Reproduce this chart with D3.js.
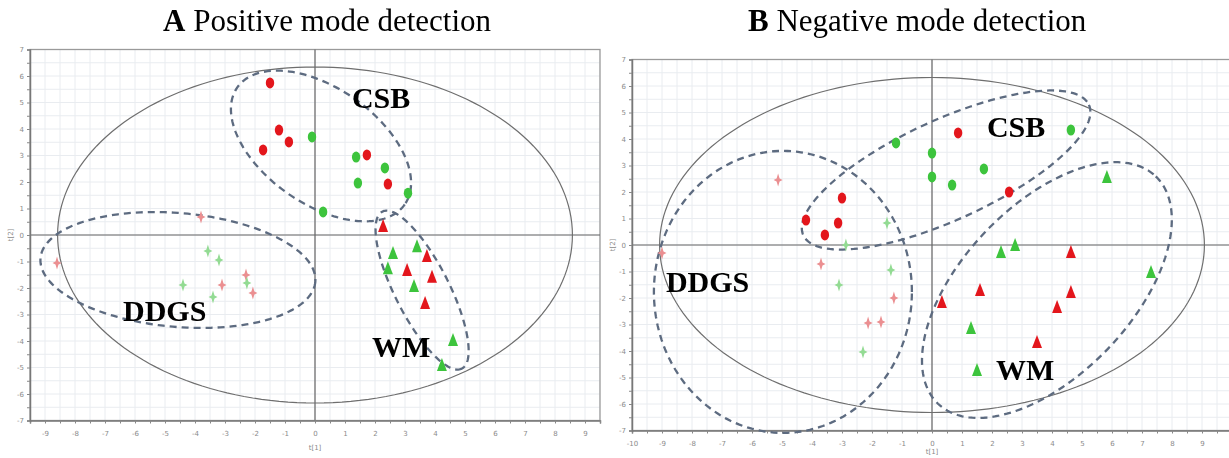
<!DOCTYPE html>
<html lang="en">
<head>
<meta charset="utf-8">
<title>PCA score plots</title>
<script src="https://d3js.org/d3.v7.min.js"></script>
<style>
  body { margin: 0; background: #fff; }
  svg { display: block; }
</style>
</head>
<body>
<script>
// ---- data (t[1], t[2], class 0 = red, 1 = green) ----
var posCSB = [[-1.50,5.74,0],[-1.20,3.96,0],[-0.87,3.51,0],[-1.73,3.21,0],[-0.10,3.70,1],[1.37,2.94,1],
              [1.73,3.02,0],[2.33,2.53,1],[1.43,1.96,1],[2.43,1.92,0],[3.10,1.58,1],[0.27,0.87,1]];
var posWM = [[2.27,0.34,0],[3.40,-0.42,1],[3.73,-0.79,0],[2.60,-0.68,1],[2.43,-1.25,1],[3.07,-1.32,0],
             [3.90,-1.58,0],[3.30,-1.92,1],[3.67,-2.57,0],[4.60,-3.96,1],[4.23,-4.91,1]];
var posDDGS = [[-3.80,0.68,0],[-3.57,-0.60,1],[-3.20,-0.94,1],[-8.60,-1.06,0],[-2.30,-1.51,0],[-2.27,-1.81,1],
               [-3.10,-1.89,0],[-4.40,-1.89,1],[-2.07,-2.19,0],[-3.40,-2.34,1]];

var negCSB = [[-1.20,3.85,1],[-3.00,1.77,0],[-4.20,0.94,0],[-3.13,0.83,0],[-3.57,0.38,0],[0.87,4.23,0],
              [0.00,3.47,1],[0.00,2.57,1],[0.67,2.26,1],[1.73,2.87,1],[2.57,2.00,0],[4.63,4.34,1]];
var negWM = [[5.83,2.57,1],[2.30,-0.26,1],[2.77,0.00,1],[4.63,-0.26,0],[7.30,-1.02,1],[4.63,-1.77,0],
             [1.60,-1.70,0],[0.33,-2.15,0],[4.17,-2.34,0],[1.30,-3.13,1],[3.50,-3.66,0],[1.50,-4.72,1]];
var negDDGS = [[-5.13,2.45,0],[-1.50,0.83,1],[-2.87,0.00,1],[-9.00,-0.30,0],[-3.70,-0.72,0],[-1.37,-0.94,1],
               [-3.10,-1.51,1],[-1.27,-2.00,0],[-2.13,-2.94,0],[-1.70,-2.91,0],[-2.30,-4.04,1]];

// confidence ellipses: centre + two conjugate half axes (data units)
var posEllipses = [
  {name: "T2",   c: [0, 0],        u: [8.58, 0],     v: [0, 6.34]},
  {name: "CSB",  c: [0.20, 3.36],  u: [2.79, -2.21], v: [-1.11, -1.79]},
  {name: "WM",   c: [3.57, -2.08], u: [1.33, -2.96], v: [-0.80, -0.48]},
  {name: "DDGS", c: [-4.57, -1.32],u: [4.58, -0.45], v: [-0.17, -2.14]}
];
var negEllipses = [
  {name: "T2",   c: [0, 0],        u: [9.08, 0],     v: [0, 6.32]},
  {name: "CSB",  c: [0.47, 2.83],  u: [4.76, 2.46],  v: [0.69, -1.72]},
  {name: "DDGS", c: [-4.97, -1.77],u: [4.30, 0],     v: [0, 5.32]},
  {name: "WM",   c: [3.83, -1.70], u: [3.63, 4.29],  v: [2.04, -2.21]}
];

var posLabels = [["CSB", 1.23, 4.79], ["DDGS", -6.4, -3.25], ["WM", 1.9, -4.6]];
var negLabels = [["CSB", 1.83, 4.08], ["DDGS", -8.87, -1.77], ["WM", 2.13, -5.09]];

var posXTicks = d3.range(-9, 10), posYTicks = d3.range(-7, 8);
var negXTicks = d3.range(-10, 10), negYTicks = d3.range(-7, 8);

var titles = [["A", " Positive mode detection"], ["B", " Negative mode detection"]];

var classColor = ["#e3161c", "#3cc43c"];
var faintColor = ["#eb8f91", "#93db93"];

var svg = d3.select("body").append("svg")
    .attr("width", 1229).attr("height", 458);

var defs = svg.append("defs");
defs.append("filter").attr("id", "soft")
    .append("feGaussianBlur").attr("stdDeviation", 0.5);

function panel(opt) {
    var x = d3.scaleLinear().domain(opt.xd).range(opt.xr);
    var y = d3.scaleLinear().domain(opt.yd).range(opt.yr);
    var g = svg.append("g");
    var clipId = "clip" + opt.id;
    defs.append("clipPath").attr("id", clipId).append("rect")
        .attr("x", opt.xr[0]).attr("y", opt.yr[1])
        .attr("width", opt.xr[1] - opt.xr[0]).attr("height", opt.yr[0] - opt.yr[1]);

    // grid every 0.5
    var grid = g.append("g").attr("clip-path", "url(#" + clipId + ")");
    grid.selectAll("line.gx").data(d3.range(opt.xd[0], opt.xd[1] + 0.01, 0.5)).enter()
        .append("line").attr("x1", d => x(d)).attr("x2", d => x(d))
        .attr("y1", opt.yr[0]).attr("y2", opt.yr[1])
        .attr("stroke", "#e9ecf0").attr("stroke-width", 1);
    grid.selectAll("line.gy").data(d3.range(opt.yd[0], opt.yd[1] + 0.01, 0.5)).enter()
        .append("line").attr("y1", d => y(d)).attr("y2", d => y(d))
        .attr("x1", opt.xr[0]).attr("x2", opt.xr[1])
        .attr("stroke", "#e9ecf0").attr("stroke-width", 1);

    // frame
    g.append("rect").attr("x", opt.xr[0]).attr("y", opt.yr[1])
        .attr("width", opt.xr[1] - opt.xr[0]).attr("height", opt.yr[0] - opt.yr[1])
        .attr("fill", "none").attr("stroke", "#9a9a9a").attr("stroke-width", 1.3);

    // zero lines
    g.append("line").attr("x1", x(0)).attr("x2", x(0)).attr("y1", opt.yr[0]).attr("y2", opt.yr[1])
        .attr("stroke", "#666").attr("stroke-width", 1.2);
    g.append("line").attr("y1", y(0)).attr("y2", y(0)).attr("x1", opt.xr[0]).attr("x2", opt.xr[1])
        .attr("stroke", "#666").attr("stroke-width", 1.2);

    // axes
    var xAxis = d3.axisBottom(x).tickValues(d3.range(opt.xd[0], opt.xd[1] + 0.01, 0.5))
        .tickSize(3).tickFormat(d => opt.xt.indexOf(d) >= 0 ? d : "");
    var xa = g.append("g").attr("transform", "translate(0," + opt.yr[0] + ")").call(xAxis);
    var yAxis = d3.axisLeft(y).tickValues(d3.range(opt.yd[0], opt.yd[1] + 0.01, 0.5))
        .tickSize(3).tickFormat(d => opt.yt.indexOf(d) >= 0 ? d : "");
    var ya = g.append("g").attr("transform", "translate(" + opt.xr[0] + ",0)").call(yAxis);
    [xa, ya].forEach(function (a) {
        a.select(".domain").attr("stroke", "#777").attr("stroke-width", 1.5);
        a.selectAll(".tick line").attr("stroke", "#888");
        a.selectAll(".tick text").attr("fill", "#8a8a8a").attr("font-size", "7px")
            .attr("font-family", "DejaVu Sans, sans-serif");
    });
    xa.selectAll(".tick text").attr("dy", "1.4em");

    g.append("text").attr("x", x(0)).attr("y", opt.xLabelY).attr("text-anchor", "middle")
        .attr("font-size", "7px").attr("fill", "#8a8a8a").attr("font-family", "DejaVu Sans, sans-serif")
        .text("t[1]");
    g.append("text").attr("transform", "translate(" + (opt.xr[0] - 17) + "," + y(0) + ") rotate(-90)")
        .attr("text-anchor", "middle").attr("font-size", "7px").attr("fill", "#8a8a8a")
        .attr("font-family", "DejaVu Sans, sans-serif").text("t[2]");

    // ellipses
    var ts = d3.range(0, 2 * Math.PI, Math.PI / 90);
    var line = d3.line().curve(d3.curveLinearClosed);
    opt.ellipses.forEach(function (e) {
        var pts = ts.map(function (t) {
            return [x(e.c[0] + e.u[0] * Math.cos(t) + e.v[0] * Math.sin(t)),
                    y(e.c[1] + e.u[1] * Math.cos(t) + e.v[1] * Math.sin(t))];
        });
        var p = g.append("path").attr("d", line(pts)).attr("fill", "none");
        if (e.name === "T2") {
            p.attr("stroke", "#6e6e6e").attr("stroke-width", 1.2);
        } else {
            p.attr("stroke", "#5d6b80").attr("stroke-width", 2.3).attr("stroke-dasharray", "7,5");
        }
    });

    var marks = g.append("g").attr("filter", "url(#soft)");
    // DDGS: small four-point stars
    marks.selectAll("path.ddgs").data(opt.ddgs).enter().append("path")
        .attr("d", "M0,-6.5 L1.5,-1.5 L4.5,0 L1.5,1.5 L0,6.5 L-1.5,1.5 L-4.5,0 L-1.5,-1.5 Z")
        .attr("transform", d => "translate(" + x(d[0]) + "," + y(d[1]) + ")")
        .attr("fill", d => faintColor[d[2]]);
    // CSB: circles
    marks.selectAll("ellipse.csb").data(opt.csb).enter().append("ellipse")
        .attr("cx", d => x(d[0])).attr("cy", d => y(d[1]))
        .attr("rx", 4.2).attr("ry", 5.5)
        .attr("fill", d => classColor[d[2]]);
    // WM: triangles
    marks.selectAll("path.wm").data(opt.wm).enter().append("path")
        .attr("d", "M0,-7 L5,6 L-5,6 Z")
        .attr("transform", d => "translate(" + x(d[0]) + "," + y(d[1]) + ")")
        .attr("fill", d => classColor[d[2]]);

    // group labels
    g.selectAll("text.grp").data(opt.labels).enter().append("text")
        .attr("x", d => x(d[1])).attr("y", d => y(d[2]))
        .attr("font-family", "Liberation Serif, Times New Roman, serif")
        .attr("font-weight", "bold").attr("font-size", "30px").attr("fill", "#000")
        .text(d => d[0]);

    // title
    var t = svg.append("text").attr("x", opt.titleX).attr("y", 31)
        .attr("font-family", "Liberation Serif, Times New Roman, serif")
        .attr("font-size", "31px").attr("fill", "#000");
    t.append("tspan").attr("font-weight", "bold").text(opt.title[0]);
    t.append("tspan").text(opt.title[1]);
}

panel({id: "A", xd: [-9.5, 9.5], xr: [30, 600], yd: [-7, 7], yr: [420.5, 49.5],
       xt: posXTicks, yt: posYTicks, ellipses: posEllipses,
       csb: posCSB, wm: posWM, ddgs: posDDGS, labels: posLabels,
       title: titles[0], titleX: 163, xLabelY: 450});
panel({id: "B", xd: [-10, 10], xr: [632, 1232], yd: [-7, 7], yr: [430.5, 59.5],
       xt: negXTicks, yt: negYTicks, ellipses: negEllipses,
       csb: negCSB, wm: negWM, ddgs: negDDGS, labels: negLabels,
       title: titles[1], titleX: 748, xLabelY: 454});
</script>
</body>
</html>
